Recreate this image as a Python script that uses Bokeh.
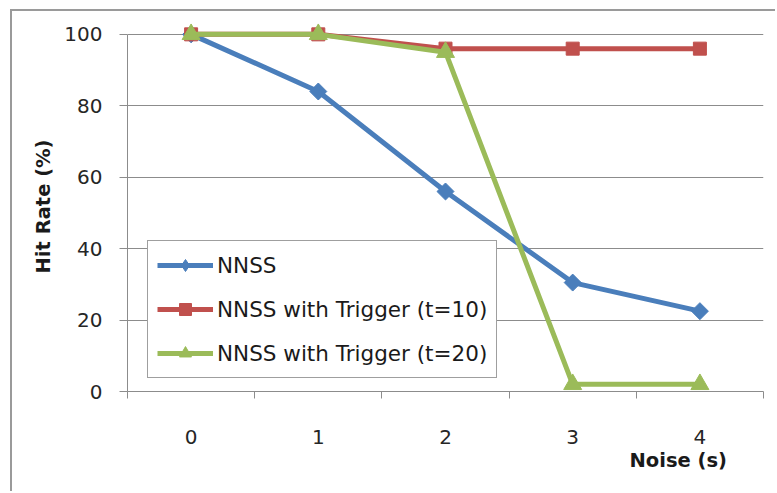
import numpy as np
from bokeh.plotting import figure
from bokeh.models import Range1d, FixedTicker, Legend, LegendItem, Title
from bokeh.embed import file_html
from bokeh.resources import INLINE

# Hit rate (%) against injected noise (s)
noise = [0, 1, 2, 3, 4]
nnss = [100, 84, 56, 30.5, 22.5]
trigger_t10 = [100, 100, 96, 96, 96]
trigger_t20 = [100, 100, 95, 2, 2]
y_ticks = [0, 20, 40, 60, 80, 100]

BLUE = "#4a7ebb"
RED = "#c0504d"
GREEN = "#9bbb59"
AXIS = "#8c8c8c"
TEXT = "#262626"
FONT = "DejaVu Sans"

p = figure(width=765, height=482, x_range=Range1d(-0.5, 4.5),
           y_range=Range1d(0, 103.6), output_backend="svg",
           toolbar_location=None, min_border_left=115, min_border_right=14,
           min_border_top=10, min_border_bottom=102)
# the chart area sits inside a thin grey frame on the page
p.styles = {"border-top": "2px solid #9a9a9a",
            "border-left": "2px solid #9a9a9a",
            "margin-left": "10px", "margin-top": "9px"}
p.outline_line_color = None
p.background_fill_color = "white"
p.border_fill_color = "white"

# horizontal gridlines only
p.xgrid.visible = False
p.ygrid.ticker = FixedTicker(ticks=y_ticks[1:])
p.ygrid.grid_line_color = AXIS
p.ygrid.grid_line_width = 1

# y axis
yax = p.yaxis[0]
yax.ticker = FixedTicker(ticks=y_ticks)
yax.bounds = (0, 100)
yax.axis_line_color = AXIS
yax.major_tick_line_color = AXIS
yax.major_tick_in = 0
yax.major_tick_out = 8
yax.minor_tick_line_color = None
yax.major_label_standoff = 17
yax.major_label_text_font = FONT
yax.major_label_text_font_size = "20px"
yax.major_label_text_color = TEXT
yax.axis_label = "Hit Rate (%)"
yax.axis_label_standoff = 6
yax.axis_label_text_font = FONT
yax.axis_label_text_font_size = "19.5px"
yax.axis_label_text_font_style = "bold"
yax.axis_label_text_color = "#1a1a1a"

# x axis: category separators drawn as minor ticks
xax = p.xaxis[0]
xax.ticker = FixedTicker(ticks=noise,
                         minor_ticks=[v - 0.5 for v in noise] + [noise[-1] + 0.5])
xax.axis_line_color = AXIS
xax.major_tick_line_color = None
xax.major_tick_in = 0
xax.major_tick_out = 0
xax.minor_tick_line_color = AXIS
xax.minor_tick_in = 0
xax.minor_tick_out = 7
xax.major_label_standoff = 31
xax.major_label_text_font = FONT
xax.major_label_text_font_size = "20px"
xax.major_label_text_color = TEXT

p.add_layout(Title(text="Noise (s)", align="left", offset=502, standoff=1,
                   text_font=FONT, text_font_size="19.5px",
                   text_font_style="bold", text_color="#1a1a1a"), "below")

# series
l1 = p.line(noise, nnss, line_width=5, color=BLUE)
s1 = p.scatter(noise, nnss, marker="square", angle=np.pi / 4, size=12,
               color=BLUE)
key1 = p.scatter(noise, nnss, marker="diamond", size=15, color=BLUE,
                 visible=False)
l2 = p.line(noise, trigger_t10, line_width=5, color=RED)
s2 = p.scatter(noise, trigger_t10, marker="square", size=13, color=RED)
l3 = p.line(noise, trigger_t20, line_width=5, color=GREEN)
s3 = p.scatter(noise, trigger_t20, marker="triangle", size=18, color=GREEN)

legend = Legend(items=[
    LegendItem(label="NNSS", renderers=[l1, key1]),
    LegendItem(label="NNSS with Trigger (t=10)", renderers=[l2, s2]),
    LegendItem(label="NNSS with Trigger (t=20)", renderers=[l3, s3]),
], location=(20, 13))
legend.border_line_color = "#404040"
legend.border_line_width = 1.5
legend.background_fill_color = "white"
legend.background_fill_alpha = 1
legend.label_text_font = FONT
legend.label_text_font_size = "21.5px"
legend.label_text_color = "#1a1a1a"
legend.glyph_width = 56
legend.glyph_height = 30
legend.label_height = 30
legend.label_standoff = 4
legend.padding = 9
legend.spacing = 14
legend.margin = 0
p.add_layout(legend)

open("out.html", "w").write(file_html(p, INLINE))
